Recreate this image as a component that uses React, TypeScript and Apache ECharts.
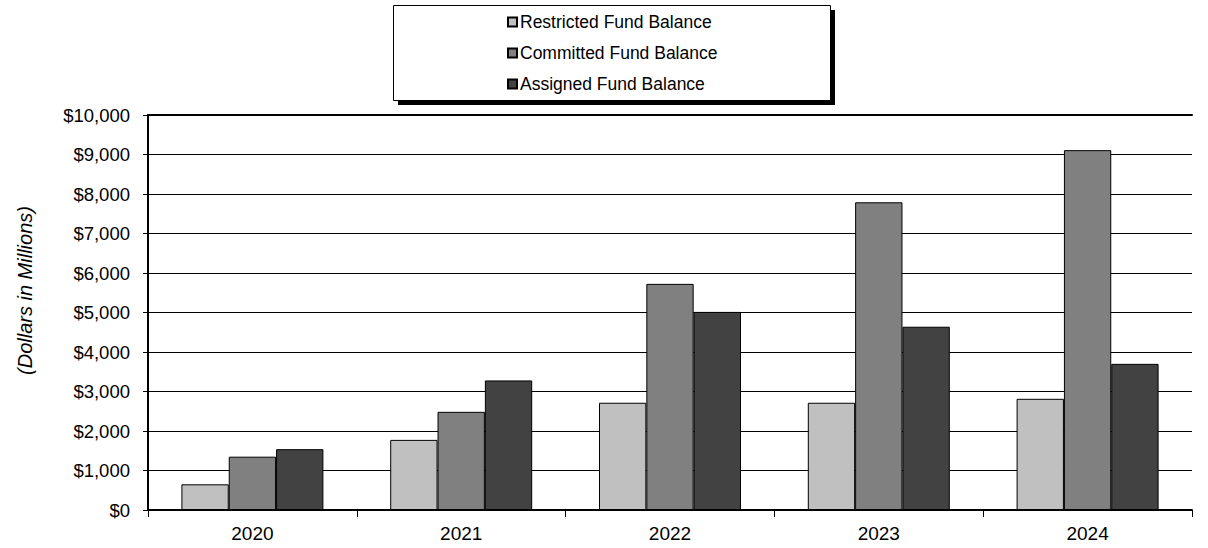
import React, { useEffect, useRef } from "react";
import * as echarts from "echarts";

const years = ["2020", "2021", "2022", "2023", "2024"];
const restricted = [650, 1775, 2715, 2715, 2815];
const committed = [1350, 2485, 5725, 7790, 9110];
const assigned = [1540, 3280, 5015, 4640, 3700];
const seriesNames = ["Restricted Fund Balance", "Committed Fund Balance", "Assigned Fund Balance"];
const colors = ["#C0C0C0", "#808080", "#424242"];

export default function App() {
  const ref = useRef<HTMLDivElement>(null);
  useEffect(() => {
    if (!ref.current) return;
    const chart = echarts.init(ref.current, null, { renderer: "svg" });
    const font = "'Liberation Sans', Arial, sans-serif";
    const data = [restricted, committed, assigned];
    chart.setOption({
      animation: false,
      textStyle: { fontFamily: font },
      grid: { left: 148, right: 16, top: 115, bottom: 38, containLabel: false },
      graphic: [
        { type: "rect", left: 398, top: 10, shape: { width: 437, height: 95 }, style: { fill: "#000" }, z: 0 },
        { type: "rect", left: 393, top: 5, shape: { width: 437, height: 95 }, style: { fill: "#fff", stroke: "#000", lineWidth: 1 }, z: 1 },
      ],
      legend: {
        orient: "vertical",
        left: 507,
        top: 12,
        padding: 0,
        itemWidth: 9,
        itemHeight: 9,
        itemGap: 11,
        icon: "rect",
        z: 5,
        textStyle: { fontFamily: font, fontSize: 17.5, lineHeight: 20, color: "#000", padding: [0, 0, 0, -2] },
        data: seriesNames,
      },
      xAxis: [
        {
          type: "category",
          data: years,
          axisLine: { lineStyle: { color: "#000", width: 2 } },
          axisTick: { show: true, length: 7, lineStyle: { color: "#000" } },
          axisLabel: { color: "#000", fontSize: 19, margin: 14, fontFamily: font },
        },
        {
          type: "category",
          data: years,
          position: "top",
          axisLine: { lineStyle: { color: "#000", width: 2 } },
          axisTick: { show: false },
          axisLabel: { show: false },
        },
      ],
      yAxis: {
        type: "value",
        min: 0,
        max: 10000,
        interval: 1000,
        name: "(Dollars in Millions)",
        nameLocation: "middle",
        nameRotate: 90,
        nameGap: 113,
        nameTextStyle: { fontStyle: "italic", fontSize: 20, color: "#000", fontFamily: font, padding: [0, 0, 0, 44] },
        axisLine: { show: true, lineStyle: { color: "#000", width: 2 } },
        axisTick: { show: true, length: 5, lineStyle: { color: "#000" } },
        axisLabel: {
          color: "#000",
          fontSize: 18.5,
          margin: 18,
          fontFamily: font,
          formatter: (v: number) => "$" + v.toLocaleString("en-US"),
        },
        splitLine: { show: true, lineStyle: { color: "#000", width: 1 } },
      },
      series: seriesNames.map((name, i) => ({
        name,
        type: "bar",
        data: data[i],
        barGap: "0%",
        barCategoryGap: "32%",
        itemStyle: { color: colors[i], borderColor: "#000", borderWidth: 1 },
      })),
    });
    return () => chart.dispose();
  }, []);
  return <div ref={ref} style={{ position: "fixed", left: 0, top: 0, width: 1208, height: 548, background: "#fff" }} />;
}
